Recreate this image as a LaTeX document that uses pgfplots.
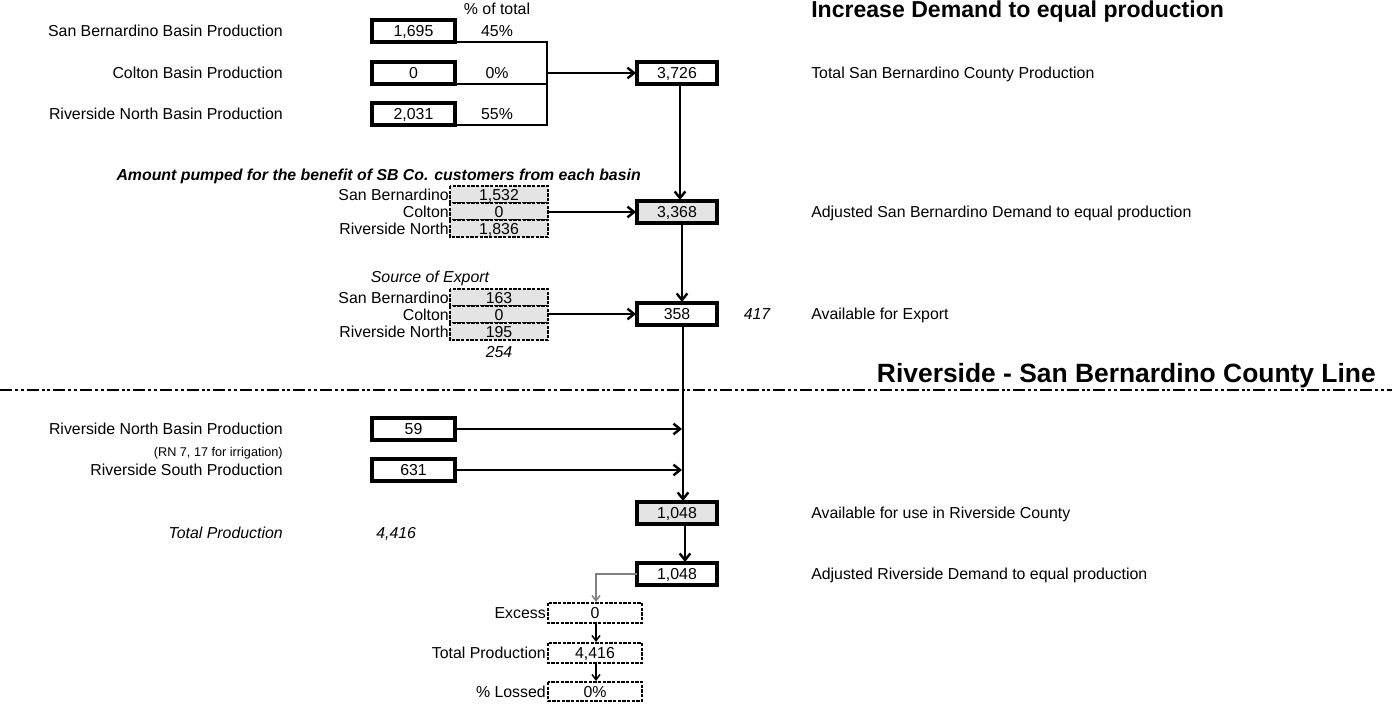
\documentclass[border=0pt]{standalone}
\usepackage{pgfplots}
\pgfplotsset{compat=1.18}
\usepackage{fontspec}
\setmainfont{Liberation Sans}
\usetikzlibrary{arrows.meta}
\definecolor{boxgray}{HTML}{E4E4E4}
\definecolor{linegray}{HTML}{808080}
% value box: x1 y1 x2 y2 text fill
\newcommand{\valbox}[6]{%
  \pgfmathsetmacro{\cx}{(#1+#3)/2}\pgfmathsetmacro{\cy}{(#2+#4)/2+5.7}%
  \edef\tmp{\noexpand\draw[bx, fill=#6] (axis cs:#1,#2) rectangle (axis cs:#3,#4);
  \noexpand\node[anchor=base] at (axis cs:\cx,\cy) {\unexpanded{#5}};}\tmp}
\newcommand{\dshbox}[6]{%
  \pgfmathsetmacro{\cx}{(#1+#3)/2}\pgfmathsetmacro{\cy}{(#2+#4)/2+5.7}%
  \edef\tmp{\noexpand\draw[dbx, fill=#6] (axis cs:#1,#2) rectangle (axis cs:#3,#4);
  \noexpand\node[anchor=base] at (axis cs:\cx,\cy) {\unexpanded{#5}};}\tmp}
% text: anchor x y text
\newcommand{\txtat}[4]{\pgfmathsetmacro{\ty}{#3+5.7}%
  \edef\tmp{\noexpand\node[anchor=#1] at (axis cs:#2,\ty) {\unexpanded{#4}};}\tmp}
\begin{document}
\begin{tikzpicture}[
  every node/.style={inner sep=0pt, font=\fontsize{11.9}{14}\selectfont},
  bx/.style={line width=2.6pt},
  dbx/.style={line width=1.1pt, dash pattern=on 2.4pt off 1.1pt},
  arr/.style={line width=1.8pt, -{Straight Barb[length=5pt,width=8pt,line width=1.8pt]}},
  tarr/.style={line width=1.1pt, -{Straight Barb[length=4pt,width=6pt,line width=1.1pt]}},
]
\begin{axis}[width=1044pt, height=531.75pt, scale only axis,
  xmin=0, xmax=1392, ymin=0, ymax=709, y dir=reverse,
  axis lines=none, ticks=none, clip=false]
% ---------- title
\node[anchor=base west, font=\bfseries\fontsize{17.3}{20}\selectfont] at (axis cs:811,17.1) {Increase Demand to equal production};
\txtat{base}{497}{9}{\% of total}
% ---------- basin production
\txtat{base east}{283}{31}{San Bernardino Basin Production}
\txtat{base east}{283}{73}{Colton Basin Production}
\txtat{base east}{283}{114}{Riverside North Basin Production}
\valbox{372}{20}{455}{42}{1,695}{white}
\valbox{372}{62}{455}{84}{0}{white}
\valbox{372}{103}{455}{125}{2,031}{white}
\txtat{base}{497}{31}{45\%}
\txtat{base}{497}{73}{0\%}
\txtat{base}{497}{114}{55\%}
\draw[line width=1.5pt] (axis cs:455,42) -- (axis cs:547,42) -- (axis cs:547,125) -- (axis cs:455,125);
\draw[line width=1.5pt] (axis cs:455,84) -- (axis cs:547,84);
\draw[arr] (axis cs:547,73) -- (axis cs:636,73);
\valbox{637}{62}{717}{84}{3,726}{white}
\txtat{base west}{811}{73}{Total San Bernardino County Production}
\draw[arr] (axis cs:680,85) -- (axis cs:680,200);
% ---------- amount pumped
\txtat{base east}{641}{175}{\bfseries\itshape Amount pumped for the benefit of SB Co. customers from each basin}
\dshbox{450}{186}{548}{203}{1,532}{boxgray}
\dshbox{450}{203}{548}{220}{0}{boxgray}
\dshbox{450}{220}{548}{237}{1,836}{boxgray}
\txtat{base east}{449}{194.5}{San Bernardino}
\txtat{base east}{449}{211.5}{Colton}
\txtat{base east}{449}{228.5}{Riverside North}
\draw[arr] (axis cs:548,212) -- (axis cs:636,212);
\valbox{637}{201}{717}{223}{3,368}{boxgray}
\txtat{base west}{811}{212}{Adjusted San Bernardino Demand to equal production}
\draw[arr] (axis cs:682,224) -- (axis cs:682,302);
% ---------- source of export
\txtat{base}{430}{277}{\itshape Source of Export}
\dshbox{450}{289}{548}{306}{163}{boxgray}
\dshbox{450}{306}{548}{323}{0}{boxgray}
\dshbox{450}{323}{548}{340}{195}{boxgray}
\txtat{base east}{449}{297.5}{San Bernardino}
\txtat{base east}{449}{314.5}{Colton}
\txtat{base east}{449}{331.5}{Riverside North}
\txtat{base}{499}{352}{\itshape 254}
\draw[arr] (axis cs:548,314) -- (axis cs:636,314);
\valbox{637}{303}{717}{325}{358}{white}
\txtat{base}{757}{314}{\itshape 417}
\txtat{base west}{811}{314}{Available for Export}
\draw[arr] (axis cs:683,326) -- (axis cs:683,501);
% ---------- county line
\node[anchor=base east, font=\bfseries\fontsize{19.8}{22}\selectfont] at (axis cs:1376,382) {Riverside - San Bernardino County Line};
\draw[line width=2.2pt, dash pattern=on 9pt off 2.2pt on 2.2pt off 2.2pt on 2.2pt off 2.2pt] (axis cs:0,390) -- (axis cs:1392,390);
% ---------- riverside
\txtat{base east}{283}{429}{Riverside North Basin Production}
\valbox{372}{418}{455}{440}{59}{white}
\draw[arr] (axis cs:455,429) -- (axis cs:682,429);
\node[anchor=base east, font=\fontsize{9.5}{11}\selectfont] at (axis cs:283,456.5) {(RN 7, 17 for irrigation)};
\txtat{base east}{283}{470}{Riverside South Production}
\valbox{372}{459}{455}{481}{631}{white}
\draw[arr] (axis cs:455,470) -- (axis cs:682,470);
\valbox{637}{502}{717}{524}{1,048}{boxgray}
\txtat{base west}{811}{513}{Available for use in Riverside County}
\txtat{base east}{283}{533}{\itshape Total Production}
\txtat{base west}{376}{533}{\itshape 4,416}
\draw[arr] (axis cs:685,525) -- (axis cs:685,562);
\valbox{637}{563}{717}{585}{1,048}{white}
\txtat{base west}{811}{574}{Adjusted Riverside Demand to equal production}
\draw[tarr, linegray] (axis cs:637,574) -- (axis cs:596,574) -- (axis cs:596,602);
\dshbox{548}{603}{642}{623}{0}{white}
\dshbox{548}{643}{642}{663}{4,416}{white}
\dshbox{548}{682}{642}{701}{0\%}{white}
\txtat{base east}{546}{613}{Excess}
\txtat{base east}{546}{653}{Total Production}
\txtat{base east}{546}{691.5}{\% Lossed}
\draw[tarr] (axis cs:596,624) -- (axis cs:596,642);
\draw[tarr] (axis cs:596,664) -- (axis cs:596,681);
\end{axis}
\pgfresetboundingbox
\path[use as bounding box] (current axis.south west) rectangle (current axis.north east);
\end{tikzpicture}
\end{document}
